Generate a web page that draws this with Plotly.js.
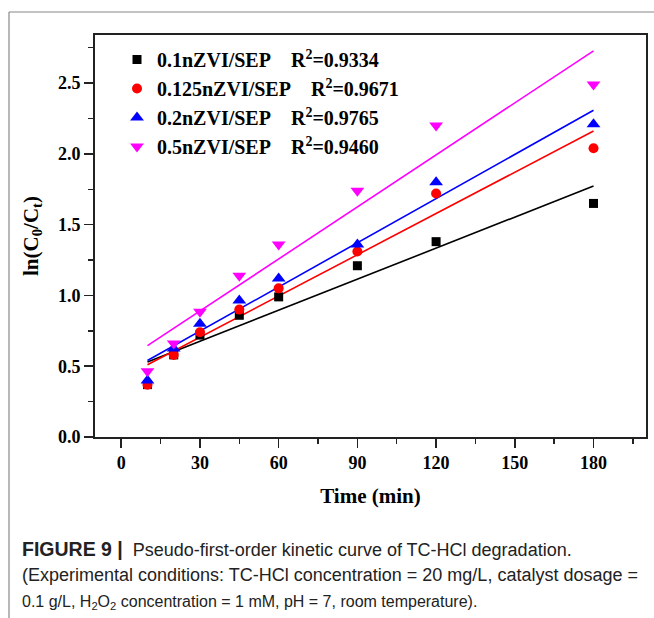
<!DOCTYPE html>
<html><head><meta charset="utf-8">
<script src="https://cdn.plot.ly/plotly-3.0.1.min.js"></script>
<style>html,body{margin:0;padding:0;background:#fff}#chart{width:654px;height:618px}</style>
</head><body><div id="chart"></div>
<script>
// Time (min)
const time = [10, 20, 30, 45, 60, 90, 120, 180];
// ln(C0/Ct) measured values
const lnC_01  = [0.37, 0.58, 0.72, 0.86, 0.99, 1.21, 1.38, 1.65];
const lnC_0125 = [0.37, 0.58, 0.74, 0.90, 1.05, 1.31, 1.72, 2.04];
const lnC_02  = [0.40, 0.625, 0.80, 0.965, 1.12, 1.36, 1.80, 2.21];
const lnC_05  = [0.465, 0.66, 0.885, 1.14, 1.36, 1.74, 2.20, 2.49];
// fitted lines (end points)
const fitTime = [10, 180];
const fit_01  = [0.53, 1.773];
const fit_0125 = [0.51, 2.162];
const fit_02  = [0.54, 2.308];
const fit_05  = [0.645, 2.728];
// labels
const seriesNames = ['0.1nZVI/SEP', '0.125nZVI/SEP', '0.2nZVI/SEP', '0.5nZVI/SEP'];
const r2Values = ['0.9334', '0.9671', '0.9765', '0.9460'];
const xTicks = [0, 30, 60, 90, 120, 150, 180];
const yTicks = [0.0, 0.5, 1.0, 1.5, 2.0, 2.5];

const colors = ['#000000', '#ff0000', '#0000ff', '#ff00ff'];
const symbols = ['square', 'circle', 'triangle-up', 'triangle-down'];
const msizes = [9, 10, 12, 12];
const measured = [lnC_01, lnC_0125, lnC_02, lnC_05];
const fits = [fit_01, fit_0125, fit_02, fit_05];

const traces = [];
for (let i = 0; i < 4; i++) {
  traces.push({
    x: fitTime, y: fits[i], mode: 'lines', type: 'scatter',
    line: {color: colors[i], width: 1.6}, showlegend: false, hoverinfo: 'skip'
  });
}
for (let i = 0; i < 4; i++) {
  traces.push({
    x: time, y: measured[i], mode: 'markers', type: 'scatter',
    name: seriesNames[i] + '\u00a0\u00a0\u00a0\u00a0R<sup>2</sup>=' + r2Values[i],
    legendgroup: 'g' + i,
    marker: {color: colors[i], symbol: symbols[i], size: msizes[i], line: {width: 0}}
  });
}

const serif = 'Liberation Serif, Times New Roman, serif';
const sans = 'Liberation Sans, Arial, Helvetica, sans-serif';
const L = 95, T = 35, B = 436.7, W = 551, H = B - T;
const py = p => (B - p) / H;
const px = p => (p - L) / W;

const layout = {
  width: 654, height: 618,
  margin: {l: 95, r: 8, t: 35, b: 181.3},
  paper_bgcolor: '#fff', plot_bgcolor: '#fff',
  showlegend: true,
  legend: {
    x: px(117), y: py(40), xanchor: 'left', yanchor: 'top',
    bgcolor: 'rgba(0,0,0,0)', borderwidth: 0,
    font: {family: serif, size: 20, color: '#000', weight: 'bold'},
    tracegroupgap: 4, traceorder: 'normal'
  },
  xaxis: {
    range: [-10, 200], tickvals: xTicks, ticks: 'outside', ticklen: 9, tickwidth: 1.5,
    tickcolor: '#222', showline: true, linecolor: '#222', linewidth: 1.8, mirror: true,
    showgrid: false, zeroline: false,
    tickfont: {family: serif, size: 18, color: '#000', weight: 'bold'},
    minor: {dtick: 15, tick0: 0, ticks: 'outside', ticklen: 5, tickwidth: 1.5, tickcolor: '#222', showgrid: false},
    title: {text: 'Time (min)', standoff: 16, font: {family: serif, size: 21, color: '#000', weight: 'bold'}}
  },
  yaxis: {
    range: [0, 2.84], tickvals: yTicks, tickformat: '.1f', ticks: 'outside', ticklen: 9, tickwidth: 1.5,
    tickcolor: '#222', showline: true, linecolor: '#222', linewidth: 1.8, mirror: true,
    showgrid: false, zeroline: false,
    tickfont: {family: serif, size: 18, color: '#000', weight: 'bold'},
    minor: {dtick: 0.25, tick0: 0, ticks: 'outside', ticklen: 5, tickwidth: 1.5, tickcolor: '#222', showgrid: false},
    title: {text: 'ln(C<sub>0</sub>/C<sub>t</sub>)', standoff: 14, font: {family: serif, size: 21, color: '#000', weight: 'bold'}}
  },
  shapes: [
    {type: 'line', xref: 'paper', yref: 'paper', x0: px(9), x1: px(9), y0: py(12), y1: py(620), line: {color: '#888', width: 1.2}},
    {type: 'line', xref: 'paper', yref: 'paper', x0: px(9), x1: px(660), y0: py(12), y1: py(12), line: {color: '#888', width: 1.2}}
  ],
  annotations: [
    {xref: 'paper', yref: 'paper', x: px(20), y: py(549), xanchor: 'left', yanchor: 'middle', showarrow: false, align: 'left',
     text: '<b><span style="font-size:19.5px">FIGURE 9 |</span></b>\u00a0\u00a0Pseudo-first-order kinetic curve of TC-HCl degradation.', font: {family: sans, size: 18, color: '#222'}},
    {xref: 'paper', yref: 'paper', x: px(20), y: py(575), xanchor: 'left', yanchor: 'middle', showarrow: false, align: 'left',
     text: '(Experimental conditions: TC-HCl concentration = 20 mg/L, catalyst dosage =', font: {family: sans, size: 18, color: '#222'}},
    {xref: 'paper', yref: 'paper', x: px(20), y: py(602), xanchor: 'left', yanchor: 'middle', showarrow: false, align: 'left',
     text: '0.1 g/L, H<sub>2</sub>O<sub>2</sub> concentration = 1 mM, pH = 7, room temperature).', font: {family: sans, size: 16, color: '#222'}}
  ]
};

Plotly.newPlot('chart', traces, layout, {displayModeBar: false, staticPlot: true});
</script>
</body></html>
